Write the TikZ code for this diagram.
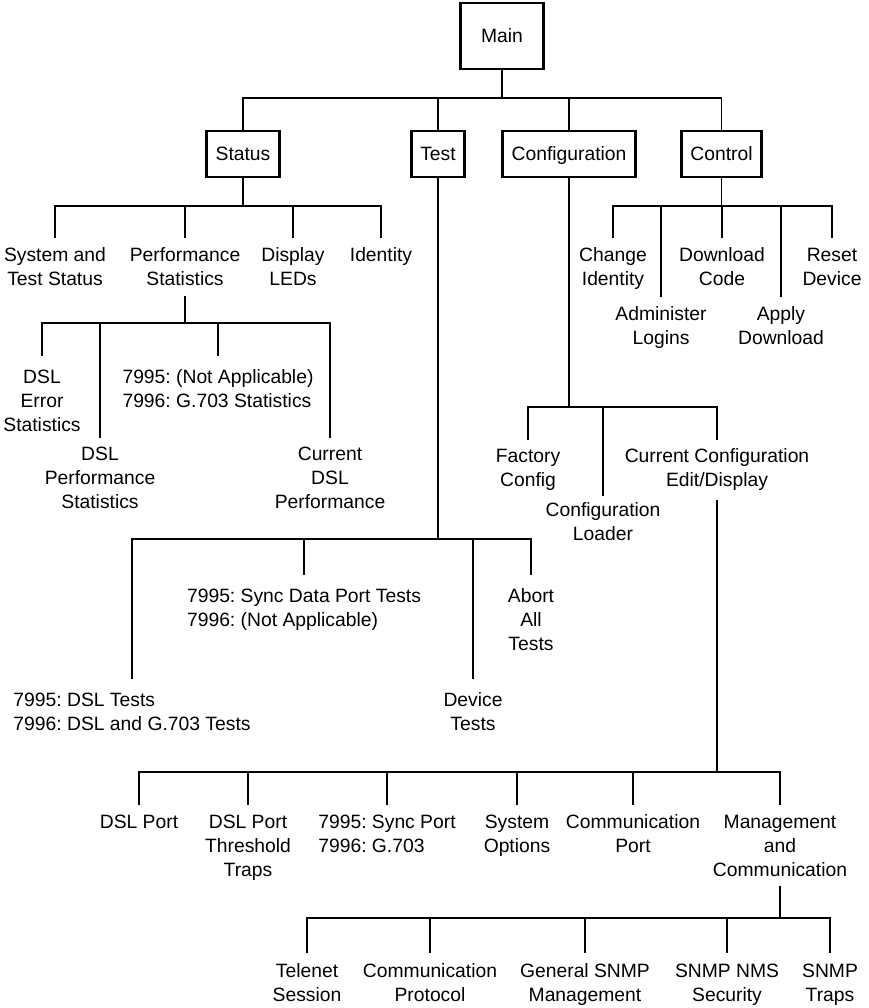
\documentclass[tikz,border=0pt]{standalone}
\usepackage{fontspec}
\setmainfont{Liberation Sans}
\frenchspacing
\usetikzlibrary{positioning}

\begin{document}
\begin{tikzpicture}
  [x=1pt,y=1pt,line width=1.1pt,
   every node/.style={font=\fontsize{19.3}{24}\selectfont},
   menu/.style={draw,line width=2.6pt,minimum height=46pt,inner xsep=9pt,
     text height=14pt,text depth=0pt},
   leaf/.style={align=center,inner sep=0pt,outer ysep=10pt,anchor=north},
   leafl/.style={leaf,align=left}]
  \useasboundingbox (0,0) rectangle (868,-1008);

  \node[menu,minimum width=83pt,minimum height=66pt] (main) at (502,-36) {Main};
  \node[menu] (st) at (243,-154) {Status};
  \node[menu] (ts) at (438,-154) {Test};
  \node[menu] (cf) at (569,-154) {Configuration};
  \node[menu] (ct) at (721.5,-154) {Control};

  \node[leaf] (s1) at (55,-238) {System and\\Test Status};
  \node[leaf] (s2) at (185,-238) {Performance\\Statistics};
  \node[leaf] (s3) at (293,-238) {Display\\LEDs};
  \node[leaf] (s4) at (381,-238) {Identity};

  \node[leaf,outer ysep=14pt] (p1) at (42,-356) {DSL\\Error\\Statistics};
  \node[leaf,outer ysep=9pt] (p2) at (100,-438) {DSL\\Performance\\Statistics};
  \node[leafl,outer ysep=14pt] (p3) at (218,-356) {7995: (Not Applicable)\\7996: G.703 Statistics};
  \node[leaf,outer ysep=9pt] (p4) at (330,-438) {Current\\DSL\\Performance};

  \node[leaf] (c1) at (613,-238) {Change\\Identity};
  \node[leaf] (c2) at (661,-297) {Administer\\Logins};
  \node[leaf] (c3) at (722,-238) {Download\\Code};
  \node[leaf] (c4) at (781,-297) {Apply\\Download};
  \node[leaf] (c5) at (832,-238) {Reset\\Device};

  \node[leaf,outer ysep=9pt] (f1) at (528,-440) {Factory\\Config};
  \node[leaf,outer ysep=7pt] (f2) at (603,-496) {Configuration\\Loader};
  \node[leaf,outer ysep=9pt] (f3) at (717,-440) {Current Configuration\\Edit/Display};

  \node[leafl,outer ysep=14pt] (t1) at (132,-679) {7995: DSL Tests\\7996: DSL and G.703 Tests};
  \node[leafl,outer ysep=14pt] (t2) at (304,-575) {7995: Sync Data Port Tests\\7996: (Not Applicable)};
  \node[leaf,outer ysep=14pt] (t3) at (473,-679) {Device\\Tests};
  \node[leaf,outer ysep=14pt] (t4) at (531,-575) {Abort\\All\\Tests};

  \node[leaf] (e1) at (139,-805) {DSL Port};
  \node[leaf] (e2) at (248,-805) {DSL Port\\Threshold\\Traps};
  \node[leafl] (e3) at (387,-805) {7995: Sync Port\\7996: G.703};
  \node[leaf] (e4) at (517,-805) {System\\Options};
  \node[leaf] (e5) at (633,-805) {Communication\\Port};
  \node[leaf] (e6) at (780,-805) {Management\\and\\Communication};

  \node[leaf,outer ysep=11pt] (m1) at (307,-953) {Telenet\\Session};
  \node[leaf,outer ysep=11pt] (m2) at (430,-953) {Communication\\Protocol};
  \node[leaf,outer ysep=11pt] (m3) at (585,-953) {General SNMP\\Management};
  \node[leaf,outer ysep=11pt] (m4) at (727,-953) {SNMP NMS\\Security};
  \node[leaf,outer ysep=11pt] (m5) at (830,-953) {SNMP\\Traps};

  \coordinate (b0) at (0,-98);
  \coordinate (b1) at (0,-206);
  \coordinate (b2) at (0,-323);
  \coordinate (b3) at (0,-407);
  \coordinate (b4) at (0,-539);
  \coordinate (b5) at (0,-772);
  \coordinate (b6) at (0,-918);

  \draw (main) -- (main |- b0);
  \draw (st) |- (ct |- b0) -- (ct);
  \draw (ts) -- (ts |- b0);
  \draw (cf) -- (cf |- b0);

  \draw (st) -- (st |- b1);
  \draw (s1) |- (s4 |- b1) -- (s4);
  \draw (s2) -- (s2 |- b1);
  \draw (s3) -- (s3 |- b1);

  \draw (s2) -- (s2 |- b2);
  \draw (p1) |- (p4 |- b2) -- (p4);
  \draw (p2) -- (p2 |- b2);
  \draw (p3) -- (p3 |- b2);

  \draw (ct) -- (ct |- b1);
  \draw (c1) |- (c5 |- b1) -- (c5);
  \draw (c2) -- (c2 |- b1);
  \draw (c3) -- (c3 |- b1);
  \draw (c4) -- (c4 |- b1);

  \draw (cf) -- (cf |- b3);
  \draw (f1) |- (f3 |- b3) -- (f3);
  \draw (f2) -- (f2 |- b3);

  \draw (ts) -- (ts |- b4);
  \draw (t1) |- (t4 |- b4) -- (t4);
  \draw (t2) -- (t2 |- b4);
  \draw (t3) -- (t3 |- b4);

  \draw (f3) -- (f3 |- b5);
  \draw (e1) |- (e6 |- b5) -- (e6);
  \draw (e2) -- (e2 |- b5);
  \draw (e3) -- (e3 |- b5);
  \draw (e4) -- (e4 |- b5);
  \draw (e5) -- (e5 |- b5);

  \draw (e6) -- (e6 |- b6);
  \draw (m1) |- (m5 |- b6) -- (m5);
  \draw (m2) -- (m2 |- b6);
  \draw (m3) -- (m3 |- b6);
  \draw (m4) -- (m4 |- b6);
\end{tikzpicture}
\end{document}
